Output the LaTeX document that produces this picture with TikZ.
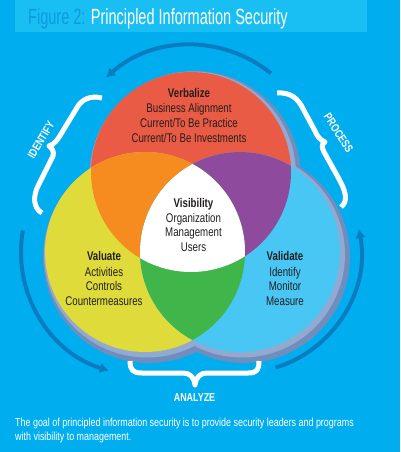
\documentclass[tikz,border=0pt]{standalone}
\usepackage{fontspec}
\setmainfont{Liberation Sans}
\newfontfamily\bodyfont{Liberation Sans}[FakeStretch=0.77]
\newfontfamily\titlefont{Liberation Sans}[FakeStretch=0.66]
\usetikzlibrary{arrows.meta}
\definecolor{bg}{HTML}{00AEEF}
\definecolor{titlebar}{HTML}{19BFF3}
\definecolor{figblue}{HTML}{0A9BE0}
\definecolor{redc}{HTML}{E95B44}
\definecolor{orac}{HTML}{F68B1F}
\definecolor{yelc}{HTML}{DFDB3A}
\definecolor{purc}{HTML}{8E4B9D}
\definecolor{bluc}{HTML}{48C7F4}
\definecolor{grnc}{HTML}{3FB54A}
\definecolor{txt}{HTML}{231F20}
\definecolor{arcc}{HTML}{0B7CC2}
\definecolor{ringdark}{HTML}{6F8EBE}
\definecolor{ringlight}{HTML}{92AAD1}
\tikzset{
  body/.style={font=\bodyfont\fontsize{12.6}{14}\selectfont, text=txt, anchor=base, inner sep=0pt},
  head/.style={body, font=\bodyfont\bfseries\fontsize{12.6}{14}\selectfont},
  lab/.style={font=\bodyfont\bfseries\fontsize{11.6}{12}\selectfont, text=white, inner sep=0pt},
  captxt/.style={font=\bodyfont\fontsize{11.6}{13}\selectfont, text=white, anchor=base west, inner sep=0pt},
  cyclearc/.style={draw=arcc, line width=4pt, -{Latex[length=9pt,width=11pt]}},
  bracepath/.style={draw=white, line width=5pt, line join=round, line cap=butt}
}
\begin{document}
\begin{tikzpicture}[x=1pt,y=-1pt]
\fill[bg] (0,0) rectangle (400,452);
\useasboundingbox (0,0) rectangle (400,452);
% title bar
\fill[titlebar] (15,0) rectangle (367,32);
\node[anchor=base west, inner sep=0pt, font=\titlefont\fontsize{22}{22}\selectfont] (title) at (28,25)
  {\textcolor{figblue}{Figure 2:} \textcolor{white}{Principled Information Security}};
% shadow ring
\fill[ringdark] (195,177) circle[radius=106] (149,257) circle[radius=106] (244,257) circle[radius=106];
\fill[ringlight] (193,174.5) circle[radius=103] (147,254.5) circle[radius=103] (242,254.5) circle[radius=103];
% circles
\fill[redc] (191,172) circle[radius=100];
\fill[yelc] (145,252) circle[radius=100];
\fill[bluc] (240,252) circle[radius=100];
\begin{scope}
  \clip (191,172) circle[radius=100];
  \fill[orac] (145,252) circle[radius=100];
  \fill[purc] (240,252) circle[radius=100];
\end{scope}
\begin{scope}
  \clip (145,252) circle[radius=100];
  \fill[grnc] (240,252) circle[radius=100];
  \clip (191,172) circle[radius=100];
  \fill[white] (240,252) circle[radius=100];
\end{scope}
% cycle arcs
\draw[cyclearc] (191,172) ++(-51:127) arc[start angle=-51, end angle=-132, radius=127];
\draw[cyclearc] (145,252) ++(190:124) arc[start angle=190, end angle=107, radius=124];
\draw[cyclearc] (240,252) ++(73:121) arc[start angle=73, end angle=-11, radius=121];
% braces
\draw[bracepath] (102,98) .. controls (90,95) and (82,100) .. (78,106) -- (61,134)
  .. controls (58,139) and (55,144) .. (49,146) .. controls (53,149) and (54,152) .. (53,156)
  -- (38,186) .. controls (33,196) and (33,208) .. (42,213);
\draw[bracepath] (277,93) .. controls (291,92) and (297,99) .. (301,105) -- (315,131)
  .. controls (317,136) and (320,140) .. (325,142) .. controls (321,144) and (322,148) .. (324,152)
  -- (339,179) .. controls (345,190) and (349,201) .. (341,207);
\draw[bracepath] (130,361) .. controls (130,370) and (133,373) .. (142,373) -- (183,373)
  .. controls (190,373) and (194,377) .. (195,385) .. controls (196,377) and (200,373) .. (207,373)
  -- (248,373) .. controls (257,373) and (259,370) .. (259,361);
% labels
\node[lab, rotate=59] (identify) at (41,140) {IDENTIFY};
\node[lab, rotate=-57] (process) at (338.5,133) {PROCESS};
\node[lab, anchor=base] (analyze) at (194.5,401.5) {ANALYZE};
% circle texts
\node[head] (verb) at (189,97.5) {Verbalize};
\node[body] (verb1) at (189,112.5) {Business Alignment};
\node[body] (verb2) at (189,127.5) {Current/To Be Practice};
\node[body] (verb3) at (189,142.5) {Current/To Be Investments};
\node[head] (vis) at (193.5,207) {Visibility};
\node[body] (vis1) at (193.5,222) {Organization};
\node[body] (vis2) at (193.5,236.5) {Management};
\node[body] (vis3) at (193.5,251) {Users};
\node[head] (valu) at (104,260.7) {Valuate};
\node[body] (valu1) at (104,276) {Activities};
\node[body] (valu2) at (104,290.7) {Controls};
\node[body] (valu3) at (104,305.3) {Countermeasures};
\node[head] (vali) at (285,260.7) {Validate};
\node[body] (vali1) at (285,276) {Identify};
\node[body] (vali2) at (285,290.7) {Monitor};
\node[body] (vali3) at (285,305.3) {Measure};
% caption
\node[captxt] (cap1) at (15,426.5) {The goal of principled information security is to provide security leaders and programs};
\node[captxt] (cap2) at (15,440) {with visibility to management.};
\end{tikzpicture}
\end{document}
